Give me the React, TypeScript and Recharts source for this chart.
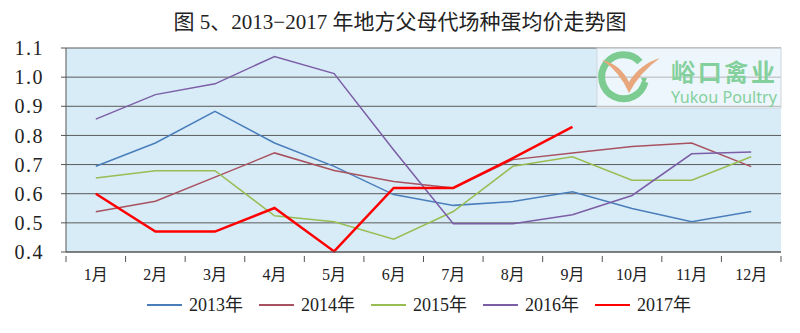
import { CartesianGrid, Line, LineChart, XAxis, YAxis } from "recharts";

const months = ["1月", "2月", "3月", "4月", "5月", "6月", "7月", "8月", "9月", "10月", "11月", "12月"];
const y2013 = [0.694, 0.774, 0.883, 0.774, 0.694, 0.597, 0.56, 0.573, 0.607, 0.549, 0.504, 0.539];
const y2014 = [0.538, 0.574, 0.657, 0.74, 0.68, 0.642, 0.62, 0.717, 0.74, 0.762, 0.774, 0.693];
const y2015 = [0.654, 0.679, 0.679, 0.524, 0.504, 0.444, 0.539, 0.694, 0.727, 0.646, 0.646, 0.727];
const y2016 = [0.856, 0.94, 0.977, 1.071, 1.012, 0.75, 0.497, 0.497, 0.528, 0.594, 0.737, 0.743];
const y2017 = [0.6, 0.47, 0.47, 0.551, 0.402, 0.62, 0.62, 0.722, 0.829];
const yTicks = [0.4, 0.5, 0.6, 0.7, 0.8, 0.9, 1.0, 1.1];

const series = [
	{ key: "y2013", name: "2013年", color: "#4A7EBB", width: 1.5 },
	{ key: "y2014", name: "2014年", color: "#A9525F", width: 1.5 },
	{ key: "y2015", name: "2015年", color: "#98BD52", width: 1.5 },
	{ key: "y2016", name: "2016年", color: "#7B5EA6", width: 1.5 },
	{ key: "y2017", name: "2017年", color: "#FF0000", width: 2.5 },
];

const data = months.map((m, i) => ({
	month: m,
	y2013: y2013[i],
	y2014: y2014[i],
	y2015: y2015[i],
	y2016: y2016[i],
	y2017: y2017[i],
}));

const W = 800;
const H = 333;
const margin = { top: 48, right: 19, bottom: 0, left: 0 };
const xAxisH = 81;
const yAxisW = 66;
const band = (W - margin.left - margin.right - yAxisW) / months.length;
const serif = "'Liberation Serif', 'Noto Sans CJK SC', serif";

function MonthTick(props: any) {
	const { x, y, payload } = props;
	const bx = x + band / 2;
	return (
		<g>
			<line x1={bx} x2={bx} y1={y - 4} y2={y + 2} stroke="#555" />
			{payload.index === 0 && (
				<line x1={x - band / 2} x2={x - band / 2} y1={y - 4} y2={y + 2} stroke="#555" />
			)}
			<text x={x} y={y + 20} textAnchor="middle" fontSize={16} fontFamily={serif} fill="#222">
				{payload.value}
			</text>
		</g>
	);
}

function LegendBox() {
	return (
		<div
			style={{
				position: "absolute",
				left: 147,
				top: 294,
				display: "flex",
				gap: 16,
				fontFamily: serif,
				fontSize: 18,
				lineHeight: "22px",
				color: "#222",
			}}
		>
			{series.map((s) => (
				<div key={s.key} style={{ display: "flex", alignItems: "center" }}>
					<span style={{ display: "inline-block", width: 35, height: 0, borderTop: `2px solid ${s.color}`, marginRight: 7 }} />
					{s.name}
				</div>
			))}
		</div>
	);
}

function Logo() {
	return (
		<svg width={W} height={H} style={{ position: "absolute", left: 0, top: 0, pointerEvents: "none" }}>
			<rect x={597} y={48} width={184} height={60} fill="#ffffff" fillOpacity={0.55} stroke="#cfd6db" />
			<path d="M 640 62 A 22 22 0 1 0 645 82" fill="none" stroke="#7ccc92" strokeWidth={7} />
			<path d="M 641 78 l 6 0 l -3 7 z" fill="#7ccc92" />
			<path d="M 602 60 Q 620 64 629 82 Q 640 64 660 58 Q 640 72 629 93 Q 620 72 602 60 z" fill="#e9a77e" />
			<text x={671} y={81} fontSize={24} fontWeight={700} fill="#84d09c" fontFamily="'Noto Sans CJK SC', sans-serif" textLength={104} lengthAdjust="spacing">
				峪口禽业
			</text>
			<text x={671} y={103} fontSize={16} fill="#84d09c" fontFamily="'Noto Sans', sans-serif" textLength={106} lengthAdjust="spacingAndGlyphs">
				Yukou Poultry
			</text>
		</svg>
	);
}

export default function App() {
	return (
		<div style={{ position: "absolute", left: 0, top: 0, width: W, height: H, background: "#fff" }}>
			<div
				style={{
					position: "absolute",
					top: 5,
					left: 0,
					width: W,
					textAlign: "center",
					fontFamily: serif,
					fontSize: 21,
					color: "#222",
				}}
			>
				图 5、2013−2017 年地方父母代场种蛋均价走势图
			</div>
			<LineChart width={W} height={H} data={data} margin={margin}>
				<CartesianGrid vertical={false} stroke="#5a5a5a" fill="#D8ECF8" />
				<XAxis
					dataKey="month"
					axisLine={{ stroke: "#555" }}
					tickLine={false}
					tick={<MonthTick />}
					interval={0}
					height={xAxisH}
					padding={{ left: band / 2, right: band / 2 }}
				/>
				<XAxis xAxisId="top" dataKey="month" orientation="top" tick={false} tickLine={false} axisLine={{ stroke: "#b0b0b0" }} height={0} />
				<YAxis
					domain={[0.4, 1.1]}
					ticks={yTicks}
					width={yAxisW}
					axisLine={{ stroke: "#555" }}
					tickLine={{ stroke: "#555" }}
					tickSize={5}
					tickMargin={17}
					interval={0}
					tickFormatter={(v: number) => v.toFixed(1)}
					tick={{ fontSize: 20, fontFamily: serif, fill: "#222", letterSpacing: 1.5 }}
				/>
				<YAxis yAxisId="right" orientation="right" domain={[0.4, 1.1]} tick={false} tickLine={false} axisLine={{ stroke: "#b0b0b0" }} width={0} />
				{series.map((s) => (
					<Line
						key={s.key}
						dataKey={s.key}
						name={s.name}
						stroke={s.color}
						strokeWidth={s.width}
						dot={false}
						activeDot={false}
						type="linear"
						isAnimationActive={false}
					/>
				))}
			</LineChart>
			<Logo />
			<LegendBox />
		</div>
	);
}
